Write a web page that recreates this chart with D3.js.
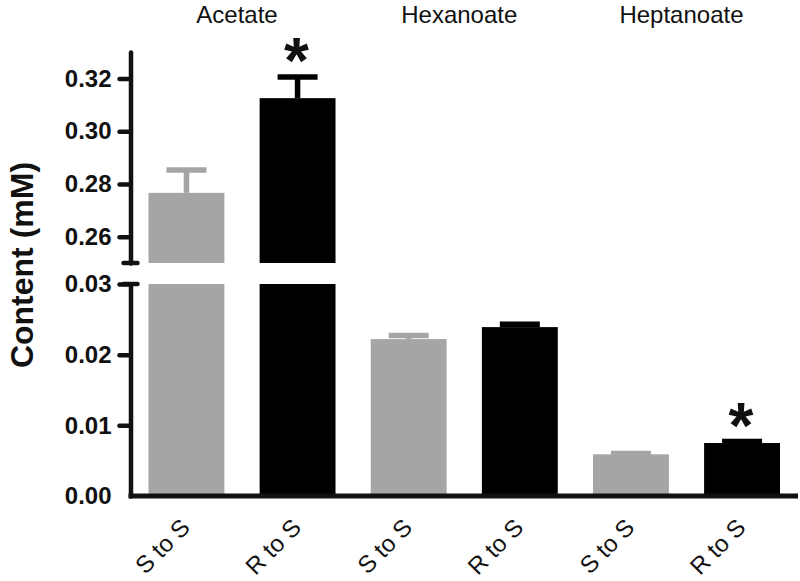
<!DOCTYPE html>
<html>
<head>
<meta charset="utf-8">
<script src="https://cdn.jsdelivr.net/npm/d3@7/dist/d3.min.js"></script>
<style>
  html, body { margin: 0; padding: 0; background: #fff; }
  svg { display: block; }
  text { font-family: "Liberation Sans", Arial, sans-serif; }
</style>
</head>
<body>
<svg id="chart" width="800" height="581"></svg>
<script>
// ---- data ----
const groups = ["Acetate", "Hexanoate", "Heptanoate"];
const conditions = ["S to S", "R to S"];
const means = [0.2766, 0.3125, 0.0222, 0.0239, 0.0059, 0.0075];
const errors = [0.0087, 0.0080, 0.0005, 0.0004, 0.0001, 0.0002];
const significant = [false, true, false, false, false, true];
const upperTicks = [0.26, 0.28, 0.30, 0.32];
const lowerTicks = [0.00, 0.01, 0.02, 0.03];
const upperDomain = [0.25, 0.33];
const lowerDomain = [0, 0.03];

const colors = { "S to S": "#a5a5a5", "R to S": "#000000" };
const ink = "#111";

const bars = [];
groups.forEach((g, gi) => conditions.forEach((c, ci) => {
  const i = gi * conditions.length + ci;
  bars.push({ id: i, group: g, cond: c, mean: means[i], err: errors[i], sig: significant[i] });
}));

const svg = d3.select("#chart");
const axisX = 130.5;

const x = d3.scaleBand()
  .domain(bars.map(d => d.id))
  .range([axisX, 798])
  .paddingInner(0.317)
  .paddingOuter(0.162);

const yUp = d3.scaleLinear().domain(upperDomain).range([263, 52]);
const yLo = d3.scaleLinear().domain(lowerDomain).range([496, 284]);

// ---- bars ----
const lowerTop = lowerDomain[1];
svg.append("g").selectAll("rect").data(bars).join("rect")
  .attr("x", d => x(d.id))
  .attr("width", x.bandwidth())
  .attr("y", d => yLo(Math.min(d.mean, lowerTop)))
  .attr("height", d => yLo(0) - yLo(Math.min(d.mean, lowerTop)))
  .attr("fill", d => colors[d.cond]);
const upBars = bars.filter(d => d.mean > upperDomain[0]);
svg.append("g").selectAll("rect").data(upBars).join("rect")
  .attr("x", d => x(d.id))
  .attr("width", x.bandwidth())
  .attr("y", d => yUp(d.mean))
  .attr("height", d => yUp(upperDomain[0]) - yUp(d.mean))
  .attr("fill", d => colors[d.cond]);

// ---- error bars ----
const yFor = v => v > lowerTop ? yUp(v) : yLo(v);
const capW = 40;
const eg = svg.append("g");
bars.forEach(d => {
  const cx = x(d.id) + x.bandwidth() / 2;
  const y0 = yFor(d.mean), y1 = yFor(d.mean + d.err);
  eg.append("line").attr("x1", cx).attr("x2", cx).attr("y1", y0).attr("y2", y1)
    .attr("stroke", colors[d.cond]).attr("stroke-width", 5.5);
  eg.append("line").attr("x1", cx - capW / 2).attr("x2", cx + capW / 2).attr("y1", y1).attr("y2", y1)
    .attr("stroke", colors[d.cond]).attr("stroke-width", 5.5);
  if (d.sig) {
    eg.append("text").attr("x", cx - 1).attr("y", y1 + 6)
      .attr("text-anchor", "middle").attr("font-size", 64).attr("font-weight", "bold")
      .attr("fill", ink).text("*");
  }
});

// ---- axes ----
function styleAxis(g) {
  g.select(".domain").attr("stroke", ink).attr("stroke-width", 4.5).attr("stroke-linecap", "round");
  g.selectAll(".tick line").attr("stroke", ink).attr("stroke-width", 4.5).attr("stroke-linecap", "round");
  g.selectAll(".tick text").attr("fill", ink).attr("font-size", 24).attr("font-weight", "bold")
    .attr("font-family", "'Liberation Sans', Arial, sans-serif");
}
const gUp = svg.append("g").attr("transform", `translate(${axisX},0)`)
  .call(d3.axisLeft(yUp).tickValues(upperTicks).tickFormat(d3.format(".2f"))
    .tickSize(11).tickSizeOuter(0).tickPadding(8));
styleAxis(gUp);
const gLo = svg.append("g").attr("transform", `translate(${axisX},0)`)
  .call(d3.axisLeft(yLo).tickValues(lowerTicks).tickFormat(d3.format(".2f"))
    .tickSize(11).tickSizeOuter(0).tickPadding(8));
styleAxis(gLo);
gLo.selectAll(".tick").filter(d => d === 0).select("line").remove();

// break marks
[yUp(upperDomain[0]), yLo(lowerDomain[1])].forEach(yy => {
  svg.append("line").attr("x1", axisX - 7).attr("x2", axisX + 7).attr("y1", yy).attr("y2", yy)
    .attr("stroke", ink).attr("stroke-width", 4.5).attr("stroke-linecap", "round");
});

// x axis
const gx = svg.append("g").attr("transform", `translate(0,${yLo(0)})`)
  .call(d3.axisBottom(x).tickSize(0).tickFormat(i => bars[i].cond));
gx.select(".domain").remove();
gx.selectAll(".tick text")
  .attr("font-size", 24).attr("fill", ink)
  .attr("font-family", "'Liberation Sans', Arial, sans-serif")
  .attr("text-anchor", "end")
  .attr("dy", null).attr("y", 0)
  .attr("transform", "translate(5,33) rotate(-45)");
svg.append("line").attr("x1", axisX - 2).attr("x2", 798).attr("y1", yLo(0)).attr("y2", yLo(0))
  .attr("stroke", ink).attr("stroke-width", 5);

// group labels
groups.forEach((g, gi) => {
  const ids = bars.filter(d => d.group === g).map(d => d.id);
  const cx = (x(ids[0]) + x(ids[ids.length - 1]) + x.bandwidth()) / 2;
  svg.append("text").attr("x", cx - 5).attr("y", 23).attr("text-anchor", "middle")
    .attr("font-size", 24).attr("fill", ink).text(g);
});

// y title
svg.append("text")
  .attr("transform", `translate(33,265) rotate(-90)`)
  .attr("text-anchor", "middle").attr("font-size", 32).attr("font-weight", "bold")
  .attr("fill", ink).text("Content (mM)");
</script>
</body>
</html>
